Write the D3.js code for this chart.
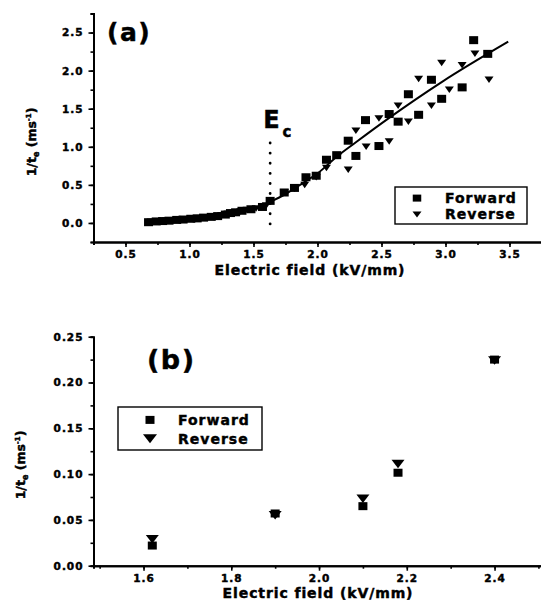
<!DOCTYPE html>
<html>
<head>
<meta charset="utf-8">
<script src="https://cdn.jsdelivr.net/npm/d3@7"></script>
<style>
  body { margin: 0; background: #fff; }
  svg { display: block; }
  text { font-family: "DejaVu Sans", Arial, sans-serif; font-weight: bold; fill: #000; stroke: #000; stroke-width: 0.45px; }
</style>
</head>
<body>
<svg id="chart" width="541" height="604"></svg>
<script>
// ---- panel (a) data ----
let aForwardX = [0.68, 0.74, 0.79, 0.84, 0.90, 0.95, 1.01, 1.06, 1.11, 1.17, 1.22, 1.28, 1.32, 1.36, 1.41, 1.48, 1.57, 1.63,
                 1.74, 1.82, 1.91, 1.99, 2.07, 2.15, 2.24, 2.30, 2.375, 2.48, 2.56, 2.63, 2.71, 2.79, 2.89, 2.97, 3.13, 3.22, 3.33];
let aForwardY = [0.01, 0.02, 0.025, 0.03, 0.04, 0.045, 0.055, 0.06, 0.07, 0.08, 0.09, 0.11, 0.13, 0.14, 0.16, 0.18, 0.21, 0.29,
                 0.40, 0.46, 0.60, 0.62, 0.83, 0.89, 1.08, 0.88, 1.35, 1.01, 1.43, 1.33, 1.69, 1.42, 1.88, 1.63, 1.78, 2.40, 2.22];
let aReverseX = [0.70, 0.77, 0.82, 0.88, 0.93, 0.98, 1.03, 1.08, 1.14, 1.19, 1.25, 1.30, 1.35, 1.40, 1.45, 1.52, 1.60,
                 1.74, 1.82, 1.90, 1.99, 2.07, 2.16, 2.24, 2.30, 2.38, 2.48, 2.56, 2.63, 2.71, 2.79, 2.89, 2.97, 3.03, 3.13, 3.23, 3.34];
let aReverseY = [0.015, 0.02, 0.03, 0.035, 0.04, 0.05, 0.055, 0.065, 0.07, 0.085, 0.10, 0.12, 0.13, 0.15, 0.17, 0.19, 0.23,
                 0.40, 0.45, 0.50, 0.60, 0.72, 0.88, 0.70, 1.21, 1.00, 1.37, 1.07, 1.54, 1.33, 1.89, 1.54, 2.10, 1.75, 2.07, 2.22, 1.88];
// fitted curve
let aFitX = [0.68, 1.0, 1.3, 1.5, 1.62, 1.75, 1.9, 2.0, 2.15, 2.3, 2.56, 2.97, 3.49];
let aFitY = [0.01, 0.05, 0.12, 0.18, 0.27, 0.38, 0.54, 0.65, 0.87, 1.06, 1.38, 1.85, 2.38];
let ecField = 1.63;
let ecRange = [-0.13, 1.05];
let aXTicks = [0.5, 1.0, 1.5, 2.0, 2.5, 3.0, 3.5];
let aYTicks = [0.0, 0.5, 1.0, 1.5, 2.0, 2.5];

// ---- panel (b) data ----
let bForwardX = [1.62, 1.90, 2.10, 2.18, 2.40];
let bForwardY = [0.022, 0.057, 0.065, 0.1015, 0.225];
let bReverseX = [1.62, 1.90, 2.10, 2.18, 2.40];
let bReverseY = [0.029, 0.055, 0.073, 0.111, 0.224];
let bXTicks = [1.6, 1.8, 2.0, 2.2, 2.4];
let bYTicks = [0.00, 0.05, 0.10, 0.15, 0.20, 0.25];

let seriesNames = ["Forward", "Reverse"];

let svg = d3.select("#chart");

function triDown(w, h) {
    return "M" + (-w / 2) + "," + (-h / 2) + "L" + (w / 2) + "," + (-h / 2) + "L0," + (h / 2) + "Z";
}

function drawAxes(g, x, y, xMajor, xMinor, yMajor, yMinor, xFmt, yFmt) {
    g.append("g")
        .attr("transform", "translate(0," + y.range()[0] + ")")
        .call(d3.axisBottom(x).tickValues(xMinor).tickSize(3).tickFormat(""));
    g.append("g")
        .attr("transform", "translate(0," + y.range()[0] + ")")
        .call(d3.axisBottom(x).tickValues(xMajor).tickSize(5).tickSizeOuter(0).tickPadding(4).tickFormat(d3.format(xFmt)));
    g.append("g")
        .attr("transform", "translate(" + x.range()[0] + ",0)")
        .call(d3.axisLeft(y).tickValues(yMinor).tickSize(3).tickFormat(""));
    g.append("g")
        .attr("transform", "translate(" + x.range()[0] + ",0)")
        .call(d3.axisLeft(y).tickValues(yMajor).tickSize(5).tickSizeOuter(0).tickPadding(5).tickFormat(d3.format(yFmt)));
    g.selectAll(".domain").attr("stroke", "#000").attr("stroke-width", 2);
    g.selectAll(".tick line").attr("stroke", "#000").attr("stroke-width", 1.6);
    g.selectAll(".tick text")
        .style("font-family", "'DejaVu Sans', Arial, sans-serif")
        .style("font-weight", "bold")
        .style("font-size", "10.5px")
        .style("letter-spacing", "1px")
        .style("stroke", "#000")
        .style("stroke-width", "0.45px")
        .attr("fill", "#000");
}

function yTitle(g, cx, cy) {
    let t = g.append("text")
        .attr("transform", "translate(" + cx + "," + cy + ") rotate(-90)")
        .attr("text-anchor", "middle")
        .style("font-size", "12.5px");
    t.append("tspan").text("1/t");
    t.append("tspan").attr("dy", 3).style("font-size", "8px").text("e");
    t.append("tspan").attr("dy", -3).text(" (ms");
    t.append("tspan").attr("dy", -5).style("font-size", "7px").text("-1");
    t.append("tspan").attr("dy", 5).text(")");
}

function legend(g, x0, y0, w, h, mx, tx, sq, tri) {
    g.append("rect")
        .attr("x", x0).attr("y", y0).attr("width", w).attr("height", h)
        .attr("fill", "#fff").attr("stroke", "#000").attr("stroke-width", 1.4);
    let r1 = y0 + h * 0.3, r2 = y0 + h * 0.74;
    g.append("rect")
        .attr("x", mx - sq[0] / 2).attr("y", r1 - sq[1] / 2)
        .attr("width", sq[0]).attr("height", sq[1]).attr("fill", "#000");
    g.append("path")
        .attr("d", triDown(tri[0], tri[1]))
        .attr("transform", "translate(" + mx + "," + r2 + ")")
        .attr("fill", "#000");
    [r1, r2].forEach(function(ry, i) {
        g.append("text")
            .attr("x", tx).attr("y", ry + 5)
            .style("font-size", "14px")
            .style("letter-spacing", "1px")
            .text(seriesNames[i]);
    });
}

// ================= panel (a) =================
let xa = d3.scaleLinear().domain([0.25, 3.75]).range([93.5, 541.5]);
let ya = d3.scaleLinear().domain([-0.25, 2.75]).range([242, 13.5]);
let ga = svg.append("g");

drawAxes(ga, xa, ya, aXTicks, d3.range(0.25, 3.76, 0.25), aYTicks, d3.range(-0.25, 2.76, 0.25), ".1f", ".1f");

let fitLine = d3.line()
    .x(function(d) { return xa(d[0]); })
    .y(function(d) { return ya(d[1]); })
    .curve(d3.curveMonotoneX);
ga.append("path")
    .datum(d3.zip(aFitX, aFitY))
    .attr("d", fitLine)
    .attr("fill", "none").attr("stroke", "#000").attr("stroke-width", 2);

ga.selectAll(".fwdA")
    .data(d3.zip(aForwardX, aForwardY))
    .join("rect")
    .attr("class", "fwdA")
    .attr("x", function(d) { return xa(d[0]) - 4.5; })
    .attr("y", function(d) { return ya(d[1]) - 4; })
    .attr("width", 9).attr("height", 8)
    .attr("fill", "#000");

ga.selectAll(".revA")
    .data(d3.zip(aReverseX, aReverseY))
    .join("path")
    .attr("class", "revA")
    .attr("d", triDown(9, 6.5))
    .attr("transform", function(d) { return "translate(" + xa(d[0]) + "," + ya(d[1]) + ")"; })
    .attr("fill", "#000");

// E_c marker
ga.append("line")
    .attr("x1", xa(ecField)).attr("x2", xa(ecField))
    .attr("y1", ya(ecRange[1])).attr("y2", ya(ecRange[0]))
    .attr("stroke", "#000").attr("stroke-width", 2.8)
    .attr("stroke-linecap", "round")
    .attr("stroke-dasharray", "0.1,10");
let ec = ga.append("text")
    .attr("x", xa(ecField) - 7).attr("y", ya(1.25))
    .style("font-size", "24px")
    .text("E");
ec.append("tspan").attr("dx", 3).attr("dy", 9).style("font-size", "15px").text("c");

ga.append("text").attr("x", 107).attr("y", 41)
    .style("font-size", "25px").style("letter-spacing", "1.5px").text("(a)");

ga.append("text").attr("x", 310).attr("y", 275)
    .attr("text-anchor", "middle")
    .style("font-size", "14px").style("letter-spacing", "0.9px")
    .text("Electric field (kV/mm)");
yTitle(ga, 36, 142);
legend(ga, 395, 187, 132, 37, 417, 445, [8.5, 7], [9, 6]);

// ================= panel (b) =================
let xb = d3.scaleLinear().domain([1.486, 2.507]).range([93.5, 541.5]);
let yb = d3.scaleLinear().domain([0, 0.25]).range([565.7, 336.7]);
let gb = svg.append("g");

drawAxes(gb, xb, yb, bXTicks, d3.range(1.5, 2.51, 0.1), bYTicks, d3.range(0, 0.251, 0.025), ".1f", ".2f");

gb.selectAll(".fwdB")
    .data(d3.zip(bForwardX, bForwardY))
    .join("rect")
    .attr("class", "fwdB")
    .attr("x", function(d) { return xb(d[0]) - 4.5; })
    .attr("y", function(d) { return yb(d[1]) - 4; })
    .attr("width", 9).attr("height", 8)
    .attr("fill", "#000");

gb.selectAll(".revB")
    .data(d3.zip(bReverseX, bReverseY))
    .join("path")
    .attr("class", "revB")
    .attr("d", triDown(13, 8.5))
    .attr("transform", function(d) { return "translate(" + xb(d[0]) + "," + yb(d[1]) + ")"; })
    .attr("fill", "#000");

gb.append("text").attr("x", 147).attr("y", 369)
    .style("font-size", "27px").style("letter-spacing", "1.5px").text("(b)");

gb.append("text").attr("x", 318).attr("y", 598)
    .attr("text-anchor", "middle")
    .style("font-size", "14px").style("letter-spacing", "0.9px")
    .text("Electric field (kV/mm)");
yTitle(gb, 25, 465);
legend(gb, 118, 407, 144, 43, 150, 178, [9, 8], [14, 9]);
</script>
</body>
</html>
